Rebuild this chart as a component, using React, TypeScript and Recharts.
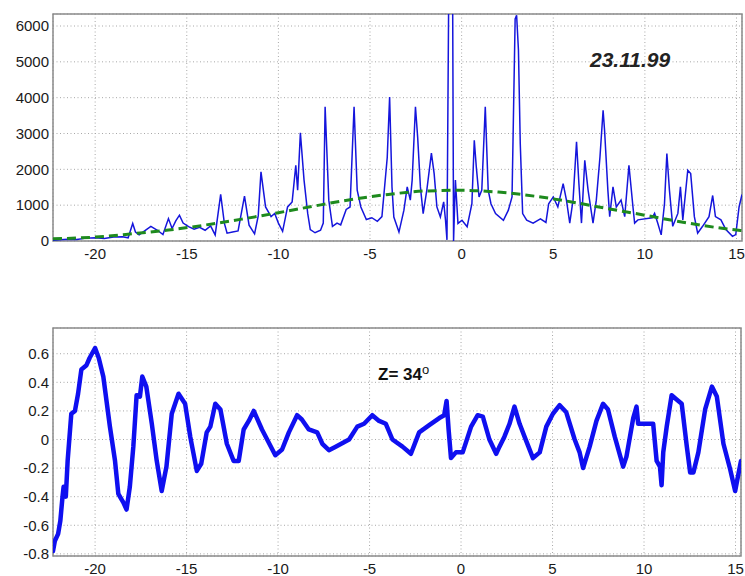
import React from 'react'
import { LineChart, Line, XAxis, YAxis, CartesianGrid, ReferenceArea } from 'recharts'

// spectrum (top, thin blue): [x, counts]
const spectrum: [number, number][] = [
  [-22.3, 20], [-21.5, 50], [-21.0, 40], [-20.5, 80], [-20.0, 90], [-19.5, 70], [-19.0, 110],
  [-18.5, 120], [-18.2, 90], [-17.95, 490], [-17.8, 250], [-17.6, 170], [-17.3, 280], [-16.96, 410],
  [-16.6, 300], [-16.3, 180], [-16.0, 625], [-15.8, 350], [-15.6, 560], [-15.4, 720], [-15.2, 500],
  [-14.9, 400], [-14.6, 330], [-14.3, 380], [-14.0, 300], [-13.7, 420], [-13.45, 170], [-13.15, 1300],
  [-12.95, 500], [-12.8, 220], [-12.5, 250], [-12.2, 280], [-11.85, 1250], [-11.6, 440], [-11.3, 200],
  [-11.1, 700], [-10.95, 1930], [-10.7, 950], [-10.4, 680], [-10.2, 770], [-10.0, 500], [-9.77, 270],
  [-9.5, 950], [-9.25, 1090], [-9.05, 2115], [-8.95, 1420], [-8.8, 3020], [-8.6, 1700], [-8.4, 770],
  [-8.26, 320], [-8.0, 230], [-7.7, 300], [-7.55, 500], [-7.45, 3745], [-7.25, 1140], [-7.05, 410],
  [-6.8, 500], [-6.6, 450], [-6.3, 880], [-6.09, 950], [-5.87, 3745], [-5.7, 1420], [-5.5, 950],
  [-5.2, 600], [-4.9, 650], [-4.6, 550], [-4.35, 680], [-4.06, 2330], [-3.93, 4020], [-3.8, 1500],
  [-3.7, 670], [-3.42, 250], [-3.15, 860], [-2.97, 1510], [-2.8, 1140], [-2.7, 1700], [-2.52, 3745],
  [-2.4, 2900], [-2.25, 1510], [-2.1, 765], [-1.9, 1420], [-1.65, 2450], [-1.5, 1880], [-1.35, 950],
  [-1.16, 670], [-0.98, 1090], [-0.88, 580], [-0.8, 30], [-0.69, 8000], [-0.5, 8000], [-0.44, 0],
  [-0.34, 1700], [-0.2, 490], [0.02, 580], [0.3, 400], [0.56, 1040], [0.69, 2810], [0.8, 2070],
  [0.95, 1230], [1.1, 1420], [1.29, 3745], [1.45, 1420], [1.6, 1040], [1.85, 765], [2.28, 580],
  [2.55, 860], [2.75, 1230], [2.92, 6200], [3.0, 6300], [3.1, 5330], [3.2, 2710], [3.33, 765],
  [3.55, 580], [3.9, 500], [4.3, 620], [4.6, 520], [4.75, 1040], [5.0, 1230], [5.25, 950],
  [5.54, 1600], [5.72, 1140], [5.9, 500], [6.08, 1140], [6.27, 2770], [6.4, 1600], [6.54, 500],
  [6.72, 2250], [6.9, 1420], [7.17, 500], [7.35, 1140], [7.55, 2350], [7.72, 3650], [7.8, 3090],
  [7.98, 1420], [8.08, 680], [8.26, 1510], [8.44, 950], [8.7, 1140], [8.9, 680], [9.13, 2115],
  [9.35, 950], [9.44, 500], [9.62, 590], [10.4, 650], [10.53, 770], [10.7, 500], [10.89, 170],
  [11.07, 1040], [11.2, 2440], [11.34, 1420], [11.52, 410], [11.8, 770], [11.94, 1510], [12.07, 590],
  [12.34, 1975], [12.5, 1880], [12.7, 680], [12.88, 220], [13.15, 410], [13.5, 680], [13.7, 1270],
  [13.85, 680], [14.15, 590], [14.42, 320], [14.78, 130], [14.96, 180], [15.14, 950], [15.3, 1300],
]

// smooth envelope (green dashed)
const envelope: [number, number][] = [
  [-22.3, 60], [-20, 110], [-18, 200], [-16, 305], [-14, 445], [-12, 610], [-10, 790], [-8, 980],
  [-6, 1160], [-4, 1300], [-2, 1395], [0, 1415], [2, 1365], [4, 1250], [6, 1090], [8, 900],
  [10, 720], [12, 530], [14, 370], [15.3, 290],
]

// oscillation (bottom, thick blue)
const oscillation: [number, number][] = [
  [-22.3, -0.78], [-22.2, -0.71], [-22.02, -0.66], [-21.9, -0.57], [-21.78, -0.4], [-21.72, -0.33],
  [-21.6, -0.4], [-21.5, -0.15], [-21.3, 0.18], [-21.1, 0.2], [-20.93, 0.32], [-20.75, 0.49],
  [-20.47, 0.52], [-20.3, 0.57], [-20.0, 0.64], [-19.8, 0.57], [-19.55, 0.44], [-19.19, 0.09],
  [-18.91, -0.15], [-18.73, -0.38], [-18.46, -0.44], [-18.28, -0.49], [-18.1, -0.33], [-17.91, -0.05],
  [-17.73, 0.31], [-17.55, 0.3], [-17.42, 0.44], [-17.2, 0.37], [-16.9, 0.11], [-16.63, -0.15],
  [-16.36, -0.36], [-16.1, -0.19], [-15.81, 0.18], [-15.44, 0.32], [-15.08, 0.25], [-14.8, 0.02],
  [-14.44, -0.22], [-14.2, -0.17], [-13.9, 0.05], [-13.7, 0.09], [-13.43, 0.25], [-13.15, 0.21],
  [-12.8, -0.03], [-12.43, -0.15], [-12.15, -0.15], [-11.88, 0.07], [-11.6, 0.13], [-11.33, 0.2],
  [-10.88, 0.07], [-10.15, -0.11], [-9.78, -0.07], [-9.41, 0.05], [-8.96, 0.17], [-8.7, 0.14],
  [-8.32, 0.07], [-7.86, 0.05], [-7.58, -0.03], [-7.22, -0.075], [-6.85, -0.05], [-6.12, 0.0],
  [-5.67, 0.09], [-5.3, 0.11], [-4.85, 0.17], [-4.48, 0.13], [-4.11, 0.11], [-3.75, 0.0],
  [-3.2, -0.05], [-2.74, -0.1], [-2.29, 0.05], [-1.74, 0.1], [-1.19, 0.15], [-0.92, 0.17],
  [-0.79, 0.27], [-0.68, 0.07], [-0.55, -0.13], [-0.28, -0.09], [0.09, -0.09], [0.55, 0.09],
  [0.91, 0.17], [1.19, 0.16], [1.55, 0.0], [1.92, -0.1], [2.1, -0.05], [2.37, 0.02], [2.65, 0.11],
  [2.92, 0.23], [3.2, 0.11], [3.47, 0.02], [3.93, -0.13], [4.3, -0.09], [4.66, 0.09], [5.02, 0.18],
  [5.39, 0.24], [5.75, 0.19], [6.21, 0.0], [6.48, -0.09], [6.67, -0.2], [7.03, -0.05], [7.4, 0.13],
  [7.76, 0.25], [8.03, 0.21], [8.4, 0.02], [8.86, -0.19], [9.04, -0.12], [9.41, 0.15], [9.59, 0.23],
  [9.68, 0.11], [9.96, 0.11], [10.5, 0.11], [10.69, -0.15], [10.87, -0.19], [10.96, -0.32],
  [11.05, -0.09], [11.24, 0.09], [11.51, 0.31], [11.78, 0.28], [12.06, 0.25], [12.34, -0.05],
  [12.52, -0.23], [12.7, -0.23], [12.97, -0.09], [13.34, 0.21], [13.71, 0.37], [13.98, 0.3],
  [14.34, -0.03], [14.71, -0.21], [14.98, -0.36], [15.16, -0.24], [15.3, -0.15],
]

const xTicks = [-20, -15, -10, -5, 0, 5, 10, 15]
const topYTicks = [0, 1000, 2000, 3000, 4000, 5000, 6000]
const bottomYTicks = [-0.8, -0.6, -0.4, -0.2, 0, 0.2, 0.4, 0.6]

const xDomain: [number, number] = [-22.3, 15.3]
const topDomain: [number, number] = [0, 6335]
const bottomDomain: [number, number] = [-0.815, 0.78]

const toRows = (pts: [number, number][]) => pts.map(([x, y]) => ({ x, y }))

const tickStyle = { fill: '#1a1a1a', fontSize: 15, fontFamily: '"Liberation Sans", Arial, sans-serif' }
const frame = '#8a8a8a'

export default function App() {
  return (
    <div style={{ position: 'absolute', left: 0, top: 0, width: 745, height: 576, overflow: 'hidden', background: '#fff', fontFamily: '"Liberation Sans", Arial, sans-serif' }}>
      <div style={{ position: 'absolute', left: 0, top: 0 }}>
        <LineChart width={745} height={272} margin={{ top: 14, right: 3, left: 8, bottom: 0 }}>
          <CartesianGrid stroke="#a8a8a8" strokeDasharray="1 2.5" />
          <XAxis type="number" dataKey="x" domain={xDomain} ticks={xTicks} allowDataOverflow axisLine={false} tickLine={false} tickSize={0} tickMargin={7} height={31} tick={tickStyle} />
          <YAxis type="number" dataKey="y" domain={topDomain} ticks={topYTicks} allowDataOverflow axisLine={false} tickLine={false} tickSize={0} tickMargin={4} width={45} tick={tickStyle} />
          <ReferenceArea x1={xDomain[0]} x2={xDomain[1]} y1={topDomain[0]} y2={topDomain[1]} fill="none" stroke={frame} strokeWidth={1.5} />
          <Line data={toRows(spectrum)} dataKey="y" type="linear" stroke="#1515dc" strokeWidth={1.5} dot={false} activeDot={false} isAnimationActive={false} />
          <Line data={toRows(envelope)} dataKey="y" type="monotone" stroke="#1e8a1e" strokeWidth={3} strokeDasharray="9 5" dot={false} activeDot={false} isAnimationActive={false} />
        </LineChart>
      </div>
      <div style={{ position: 'absolute', left: 590, top: 47, fontSize: 21, fontWeight: 'bold', fontStyle: 'italic', color: '#222', lineHeight: '26px' }}>23.11.99</div>

      <div style={{ position: 'absolute', left: 0, top: 300 }}>
        <LineChart width={745} height={276} margin={{ top: 28, right: 4, left: 8, bottom: 0 }}>
          <CartesianGrid stroke="#a8a8a8" strokeDasharray="1 2.5" />
          <XAxis type="number" dataKey="x" domain={xDomain} ticks={xTicks} allowDataOverflow axisLine={false} tickLine={false} tickSize={0} tickMargin={7} height={20} tick={tickStyle} />
          <YAxis type="number" dataKey="y" domain={bottomDomain} ticks={bottomYTicks} allowDataOverflow axisLine={false} tickLine={false} tickSize={0} tickMargin={4} width={45} tick={tickStyle} />
          <ReferenceArea x1={xDomain[0]} x2={xDomain[1]} y1={bottomDomain[0]} y2={bottomDomain[1]} fill="none" stroke={frame} strokeWidth={1.5} />
          <Line data={toRows(oscillation)} dataKey="y" type="linear" stroke="#0f0ff0" strokeWidth={4.5} strokeLinejoin="round" strokeLinecap="round" dot={false} activeDot={false} isAnimationActive={false} />
        </LineChart>
      </div>
      <div style={{ position: 'absolute', left: 378, top: 359, fontSize: 17, fontWeight: 'bold', color: '#111', lineHeight: '22px' }}>
        Z= 34<sup style={{ fontSize: 13, fontWeight: 'normal', verticalAlign: 6 }}>o</sup>
      </div>
    </div>
  )
}
